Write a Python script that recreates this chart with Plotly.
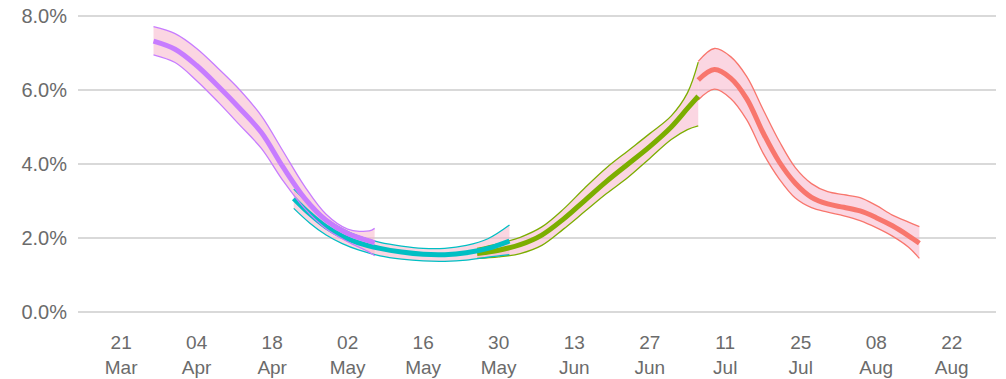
import plotly.graph_objects as go

# Smoothed rate estimates (percent) with lower / upper bounds, four fitting windows
purple_dates = ["2020-03-27", "2020-03-31", "2020-04-04", "2020-04-08", "2020-04-12", "2020-04-16",
                "2020-04-20", "2020-04-24", "2020-04-28", "2020-05-02", "2020-05-06", "2020-05-07"]
purple_mid = [7.32, 7.10, 6.66, 6.10, 5.50, 4.85, 3.92, 3.08, 2.48, 2.12, 1.92, 1.87]
purple_lo = [6.95, 6.74, 6.25, 5.67, 5.05, 4.42, 3.55, 2.80, 2.25, 1.90, 1.62, 1.52]
purple_hi = [7.71, 7.52, 7.12, 6.58, 6.00, 5.30, 4.35, 3.40, 2.64, 2.24, 2.19, 2.26]

cyan_dates = ["2020-04-22", "2020-04-25", "2020-04-28", "2020-05-01", "2020-05-04", "2020-05-08",
              "2020-05-12", "2020-05-16", "2020-05-20", "2020-05-24", "2020-05-28", "2020-06-01"]
cyan_mid = [3.07, 2.65, 2.30, 2.05, 1.87, 1.72, 1.62, 1.56, 1.55, 1.60, 1.72, 1.92]
cyan_lo = [2.80, 2.40, 2.08, 1.85, 1.68, 1.52, 1.43, 1.38, 1.37, 1.40, 1.48, 1.55]
cyan_hi = [3.32, 2.90, 2.52, 2.25, 2.05, 1.88, 1.78, 1.72, 1.72, 1.80, 1.98, 2.35]

green_dates = ["2020-05-26", "2020-05-30", "2020-06-03", "2020-06-07", "2020-06-11", "2020-06-15",
               "2020-06-19", "2020-06-23", "2020-06-27", "2020-07-01", "2020-07-04", "2020-07-06"]
green_mid = [1.58, 1.67, 1.82, 2.08, 2.51, 3.02, 3.53, 4.00, 4.47, 5.00, 5.50, 5.83]
green_lo = [1.45, 1.49, 1.58, 1.80, 2.24, 2.72, 3.20, 3.64, 4.15, 4.66, 4.93, 5.03]
green_hi = [1.72, 1.85, 2.02, 2.30, 2.78, 3.36, 3.90, 4.36, 4.82, 5.30, 5.92, 6.75]

red_dates = ["2020-07-06", "2020-07-09", "2020-07-12", "2020-07-15", "2020-07-18", "2020-07-21",
             "2020-07-24", "2020-07-27", "2020-07-30", "2020-08-02", "2020-08-05", "2020-08-08",
             "2020-08-11", "2020-08-14", "2020-08-16"]
red_mid = [6.27, 6.55, 6.32, 5.76, 4.85, 4.06, 3.48, 3.10, 2.92, 2.83, 2.73, 2.55, 2.33, 2.06, 1.86]
red_lo = [5.73, 6.02, 5.77, 5.19, 4.30, 3.60, 3.08, 2.82, 2.70, 2.60, 2.47, 2.28, 2.05, 1.75, 1.45]
red_hi = [6.77, 7.12, 6.90, 6.36, 5.48, 4.62, 3.90, 3.47, 3.25, 3.17, 3.09, 2.88, 2.62, 2.43, 2.31]

tick_dates = ["2020-03-21", "2020-04-04", "2020-04-18", "2020-05-02", "2020-05-16", "2020-05-30",
              "2020-06-13", "2020-06-27", "2020-07-11", "2020-07-25", "2020-08-08", "2020-08-22"]
tick_text = ["21<br>Mar", "04<br>Apr", "18<br>Apr", "02<br>May", "16<br>May", "30<br>May",
             "13<br>Jun", "27<br>Jun", "11<br>Jul", "25<br>Jul", "08<br>Aug", "22<br>Aug"]

y_ticks = [0, 2, 4, 6, 8]

series = [
    (purple_dates, purple_mid, purple_lo, purple_hi, "#C77CFF"),
    (cyan_dates, cyan_mid, cyan_lo, cyan_hi, "#00BFC4"),
    (green_dates, green_mid, green_lo, green_hi, "#7CAE00"),
    (red_dates, red_mid, red_lo, red_hi, "#F8766D"),
]

RIBBON = "rgba(247,180,202,0.55)"
SPLINE = dict(shape="spline", smoothing=1.0)

fig = go.Figure()

# ribbons first
for dates, mid, lo, hi, col in series:
    fig.add_trace(go.Scatter(x=dates, y=lo, mode="lines", line=dict(width=0, **SPLINE),
                             hoverinfo="skip", showlegend=False))
    fig.add_trace(go.Scatter(x=dates, y=hi, mode="lines", line=dict(width=0, **SPLINE),
                             fill="tonexty", fillcolor=RIBBON, hoverinfo="skip", showlegend=False))

# bound lines and centre estimates, later windows underneath earlier ones
for dates, mid, lo, hi, col in reversed(series):
    for bound in (lo, hi):
        fig.add_trace(go.Scatter(x=dates, y=bound, mode="lines",
                                 line=dict(color=col, width=1.3, **SPLINE), showlegend=False))
    fig.add_trace(go.Scatter(x=dates, y=mid, mode="lines",
                             line=dict(color=col, width=5, **SPLINE), showlegend=False))

yfont = dict(family="Liberation Sans, Arial, sans-serif", size=20, color="#6b6b6b")
xfont = dict(family="Liberation Sans, Arial, sans-serif", size=19, color="#6b6b6b")

fig.update_layout(
    width=1006, height=379,
    margin=dict(l=78, r=10, t=0, b=54),
    paper_bgcolor="white", plot_bgcolor="white",
    font=yfont,
    showlegend=False,
    xaxis=dict(type="date", range=["2020-03-13", "2020-08-30 05:00"],
               tickmode="array", tickvals=tick_dates, ticktext=tick_text,
               showgrid=False, zeroline=False, showline=False, ticks="",
               ticklabelstandoff=4, tickfont=xfont, automargin=False),
    yaxis=dict(range=[-0.35, 8.43], tickmode="array", tickvals=y_ticks,
               ticktext=[f"{v:.1f}%" for v in y_ticks],
               showgrid=True, gridcolor="#d9d9d9", gridwidth=1.5,
               zeroline=False, showline=False, ticks="", ticklabelstandoff=10,
               tickfont=yfont, automargin=False),
)

fig.write_html("out.html")
